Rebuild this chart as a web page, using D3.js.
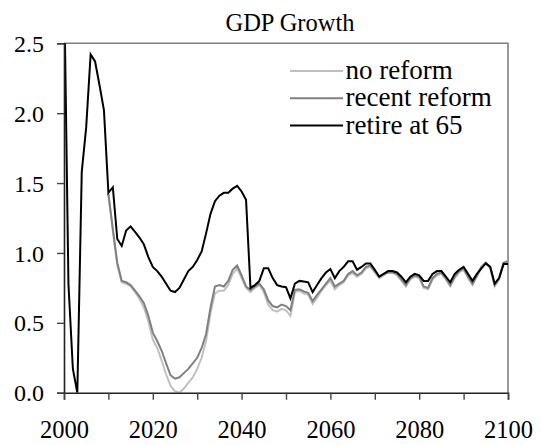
<!DOCTYPE html>
<html>
<head>
<meta charset="utf-8">
<script src="https://cdn.jsdelivr.net/npm/d3@7"></script>
<style>
  html, body { margin: 0; padding: 0; background: #fff; }
  svg { display: block; }
  text { font-family: "Liberation Serif", "Times New Roman", serif; fill: #000; }
</style>
</head>
<body>
<svg id="chart" width="541" height="445"></svg>
<script>
// Annual GDP growth (%) under three pension scenarios, 2000-2100
const startYear = 2000;
const endYear = 2100;

const retireAt65 = [
  3.0, 0.78, 0.17, 0.0, 1.58, 1.90, 2.42, 2.37, 2.20, 2.02,
  1.43, 1.47, 1.10, 1.05, 1.16, 1.19, 1.15, 1.11, 1.06, 0.97,
  0.90, 0.87, 0.83, 0.78, 0.73, 0.72, 0.75, 0.81, 0.87, 0.90,
  0.95, 1.01, 1.14, 1.28, 1.37, 1.41, 1.43, 1.43, 1.46, 1.48,
  1.44, 1.38, 0.75, 0.77, 0.80, 0.89, 0.89, 0.82, 0.77, 0.76,
  0.755, 0.675, 0.78, 0.80, 0.795, 0.79, 0.72, 0.77, 0.82, 0.86,
  0.885, 0.82, 0.87, 0.90, 0.94, 0.94, 0.88, 0.90, 0.925, 0.925,
  0.88, 0.83, 0.85, 0.87, 0.87, 0.86, 0.83, 0.79, 0.83, 0.85,
  0.84, 0.80, 0.80, 0.85, 0.87, 0.87, 0.83, 0.79, 0.85, 0.88,
  0.90, 0.85, 0.80, 0.85, 0.89, 0.925, 0.90, 0.78, 0.82, 0.92,
  0.92
];

const recentReform = [
  null, null, null, null, null, null, null, null, null, null,
  1.42, 1.17, 0.93, 0.80, 0.79, 0.77, 0.73, 0.69, 0.64, 0.55,
  0.43, 0.37, 0.30, 0.21, 0.125, 0.10, 0.11, 0.14, 0.17, 0.21,
  0.25, 0.32, 0.42, 0.61, 0.76, 0.77, 0.76, 0.80, 0.88, 0.91,
  0.84, 0.76, 0.735, 0.76, 0.78, 0.74, 0.66, 0.62, 0.61, 0.63,
  0.62, 0.59, 0.735, 0.74, 0.725, 0.715, 0.655, 0.70, 0.74, 0.78,
  0.82, 0.76, 0.78, 0.80, 0.85, 0.87, 0.84, 0.86, 0.90, 0.91,
  0.87, 0.83, 0.85, 0.86, 0.86, 0.85, 0.81, 0.77, 0.82, 0.84,
  0.83, 0.76, 0.75, 0.82, 0.85, 0.86, 0.82, 0.77, 0.83, 0.87,
  0.89, 0.83, 0.78, 0.84, 0.90, 0.93, 0.90, 0.77, 0.82, 0.93,
  0.94
];

const noReform = [
  null, null, null, null, null, null, null, null, null, null,
  1.42, 1.16, 0.91, 0.79, 0.78, 0.76, 0.72, 0.67, 0.61, 0.51,
  0.38, 0.32, 0.23, 0.13, 0.05, 0.01, 0.0, 0.03, 0.07, 0.11,
  0.17, 0.25, 0.37, 0.57, 0.71, 0.73, 0.73, 0.77, 0.85, 0.89,
  0.82, 0.75, 0.72, 0.75, 0.77, 0.72, 0.63, 0.59, 0.58, 0.60,
  0.59, 0.55, 0.72, 0.73, 0.71, 0.70, 0.635, 0.68, 0.73, 0.77,
  0.80, 0.74, 0.77, 0.79, 0.84, 0.855, 0.83, 0.85, 0.89, 0.90,
  0.86, 0.82, 0.84, 0.86, 0.86, 0.84, 0.80, 0.76, 0.81, 0.83,
  0.82, 0.75, 0.74, 0.81, 0.84, 0.85, 0.81, 0.76, 0.82, 0.86,
  0.88, 0.82, 0.77, 0.83, 0.89, 0.93, 0.89, 0.76, 0.81, 0.93,
  0.94
];

const yTicks = [0, 0.5, 1.0, 1.5, 2.0, 2.5];
const xMinorTicks = d3.range(2000, 2101, 10);
const xLabelTicks = [2000, 2020, 2040, 2060, 2080, 2100];

const seriesNames = ["no reform", "recent reform", "retire at 65"];
const seriesColors = ["#c0c0c0", "#808080", "#000000"];
const seriesValues = [noReform, recentReform, retireAt65];

const years = d3.range(startYear, endYear + 1);

const plot = { left: 64, right: 508, top: 43.3, bottom: 392.7 };

const svg = d3.select("#chart");

const x = d3.scaleLinear().domain([startYear, endYear]).range([plot.left, plot.right]);
const y = d3.scaleLinear().domain([0, 2.5]).range([plot.bottom, plot.top]);

// Title
svg.append("text")
  .attr("x", 290)
  .attr("y", 30.5)
  .attr("text-anchor", "middle")
  .style("font-size", "24.5px")
  .text("GDP Growth");

// Plot frame (top and right edges)
svg.append("path")
  .attr("d", `M${plot.left},${plot.top}H${plot.right}V${plot.bottom}`)
  .attr("fill", "none")
  .attr("stroke", "#808080")
  .attr("stroke-width", 1.6);

svg.append("clipPath").attr("id", "plotClip")
  .append("rect")
  .attr("x", plot.left)
  .attr("y", plot.top)
  .attr("width", plot.right - plot.left)
  .attr("height", plot.bottom - plot.top);

// Series lines
const line = d3.line()
  .defined(d => d.v !== null)
  .x(d => x(d.year))
  .y(d => y(d.v));

const lineGroup = svg.append("g").attr("clip-path", "url(#plotClip)");
seriesValues.forEach((vals, i) => {
  const pts = years.map((yr, k) => ({ year: yr, v: vals[k] }));
  lineGroup.append("path")
    .datum(pts)
    .attr("fill", "none")
    .attr("stroke", seriesColors[i])
    .attr("stroke-width", 2)
    .attr("stroke-linejoin", "miter")
    .attr("d", line);
});

// Y axis
const yAxis = svg.append("g")
  .attr("transform", `translate(${plot.left},0)`)
  .call(d3.axisLeft(y).tickValues(yTicks).tickFormat(d3.format(".1f")).tickSize(7).tickPadding(13));
yAxis.select(".domain").attr("stroke", "#222").attr("stroke-width", 1.6);
yAxis.selectAll(".tick line").attr("stroke", "#444").attr("stroke-width", 1.4);
yAxis.selectAll(".tick text")
  .style("font-size", "24px")
  .style("font-family", "'Liberation Serif', 'Times New Roman', serif")
  .attr("dy", "0.34em");

// X axis
const xAxis = svg.append("g")
  .attr("transform", `translate(0,${plot.bottom})`)
  .call(d3.axisBottom(x).tickValues(xMinorTicks)
    .tickFormat(d => xLabelTicks.includes(d) ? String(d) : "")
    .tickSize(7).tickPadding(30));
xAxis.select(".domain").attr("stroke", "#222").attr("stroke-width", 1.6);
xAxis.selectAll(".tick line").attr("stroke", "#444").attr("stroke-width", 1.4);
xAxis.selectAll(".tick text")
  .style("font-size", "24.5px")
  .style("font-family", "'Liberation Serif', 'Times New Roman', serif")
  .attr("dy", "0.34em");

// Legend
const legend = svg.append("g");
seriesNames.forEach((name, i) => {
  const ly = 71 + i * 27.3;
  legend.append("line")
    .attr("x1", 290).attr("x2", 343)
    .attr("y1", ly).attr("y2", ly)
    .attr("stroke", seriesColors[i])
    .attr("stroke-width", 2);
  legend.append("text")
    .attr("x", 345.5)
    .attr("y", ly + 8)
    .style("font-size", "27px")
    .text(name);
});
</script>
</body>
</html>
